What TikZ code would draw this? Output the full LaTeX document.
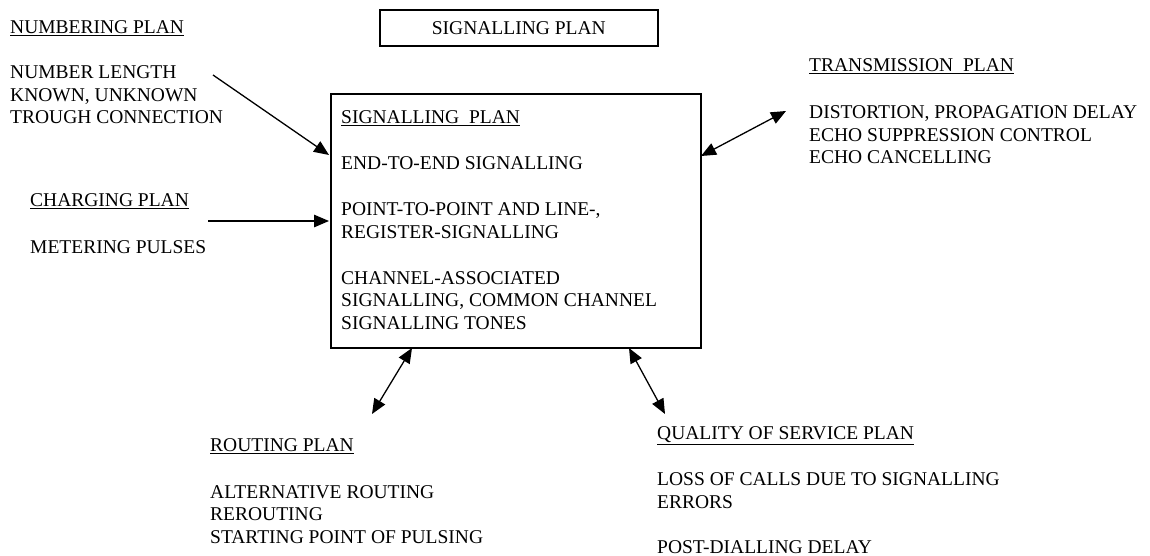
\documentclass[tikz,border=0pt]{standalone}
\usepackage{fontspec}
\setmainfont{Liberation Serif}
\usetikzlibrary{arrows.meta}

% text blocks are placed by the baseline of their last line
\tikzset{
  lbl/.style={anchor=base west, inner sep=0pt, align=left,
              font=\fontsize{19.5}{22.5}\selectfont},
  frame/.style={draw, line width=1.6pt, inner sep=0pt},
  tip/.style={Triangle[length=15pt,width=12.5pt]},
  arr/.style={line width=1.3pt, -{Triangle[length=15pt,width=12.5pt]}},
  darr/.style={line width=1.3pt, {Triangle[length=15pt,width=12.5pt]}-{Triangle[length=15pt,width=12.5pt]}}
}

\begin{document}
\begin{tikzpicture}[x=1pt, y=-1pt]
  \useasboundingbox (0,0) rectangle (1150,555);

  % title box
  \node[frame, minimum width=278pt, minimum height=36pt, anchor=north west,
        font=\fontsize{19.5}{22.5}\selectfont] (title) at (379,9) {SIGNALLING PLAN};

  % central signalling plan box
  \node[frame, minimum width=370pt, minimum height=254pt, anchor=north west] (main) at (330,93) {};
  \node[lbl] (mhead) at (341,123.5) {\underline{SIGNALLING~~PLAN}};
  \node[lbl] (m1) at (341,169.5) {END-TO-END SIGNALLING};
  \node[lbl] (m2) at (341,238) {POINT-TO-POINT AND LINE-,\\REGISTER-SIGNALLING};
  \node[lbl] (m3) at (341,329) {CHANNEL-ASSOCIATED\\SIGNALLING, COMMON CHANNEL\\SIGNALLING TONES};

  % numbering plan
  \node[lbl] (numhead) at (10,33.5) {\underline{NUMBERING PLAN}};
  \node[lbl] (numtext) at (10,123.5) {NUMBER LENGTH\\KNOWN, UNKNOWN\\TROUGH CONNECTION};

  % charging plan
  \node[lbl] (chhead) at (30,206.5) {\underline{CHARGING PLAN}};
  \node[lbl] (chtext) at (30,253.5) {METERING PULSES};

  % transmission plan
  \node[lbl] (trhead) at (809,71.5) {\underline{TRANSMISSION~~PLAN}};
  \node[lbl] (trtext) at (809,163.5) {DISTORTION, PROPAGATION DELAY\\ECHO SUPPRESSION CONTROL\\ECHO CANCELLING};

  % routing plan
  \node[lbl] (rohead) at (210,451.5) {\underline{ROUTING PLAN}};
  \node[lbl] (rotext) at (210,543) {ALTERNATIVE ROUTING\\REROUTING\\STARTING POINT OF PULSING};

  % quality of service plan
  \node[lbl] (qhead) at (657,439.5) {\underline{QUALITY OF SERVICE PLAN}};
  \node[lbl] (qtext1) at (657,508) {LOSS OF CALLS DUE TO SIGNALLING\\ERRORS};
  \node[lbl] (qtext2) at (657,553) {POST-DIALLING DELAY};

  % connector end points
  \coordinate (numend) at (213,75);
  \coordinate (numtip) at (329,155);
  \coordinate (chend) at (208,221);
  \coordinate (chtip) at (329,221);
  \coordinate (trbox) at (701,156);
  \coordinate (trtip) at (786,111);
  \coordinate (robox) at (412,348);
  \coordinate (rotip) at (372,414);
  \coordinate (qbox) at (629,348);
  \coordinate (qtip) at (665,414);

  % connectors
  \draw[arr] (numend) -- (numtip);
  \draw[arr] (chend) -- (chtip);
  \draw[darr] (trbox) -- (trtip);
  \draw[darr] (robox) -- (rotip);
  \draw[darr] (qbox) -- (qtip);
\end{tikzpicture}
\end{document}
